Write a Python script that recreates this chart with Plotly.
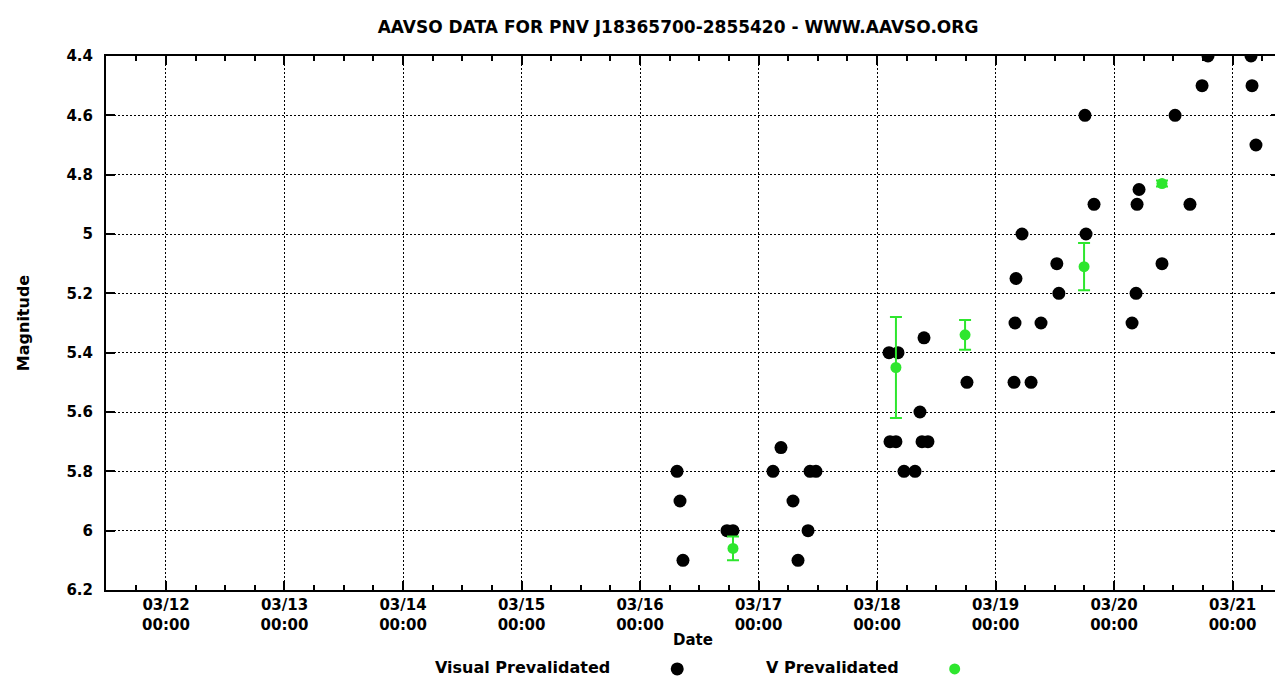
import plotly.graph_objects as go

# ---- data ----
vis_dates = [
    "2014-03-16 07:30", "2014-03-16 08:06", "2014-03-16 08:42", "2014-03-16 17:37", "2014-03-16 18:50",
    "2014-03-17 02:56", "2014-03-17 04:33", "2014-03-17 06:59", "2014-03-17 08:00", "2014-03-17 10:02",
    "2014-03-17 10:26", "2014-03-17 11:38",
    "2014-03-18 02:26", "2014-03-18 04:15", "2014-03-18 02:38", "2014-03-18 03:50", "2014-03-18 05:28",
    "2014-03-18 07:42", "2014-03-18 08:42", "2014-03-18 09:31", "2014-03-18 09:07", "2014-03-18 10:19",
    "2014-03-18 18:13",
    "2014-03-19 03:45", "2014-03-19 07:12", "2014-03-19 03:57", "2014-03-19 09:13", "2014-03-19 04:09",
    "2014-03-19 05:22", "2014-03-19 12:50", "2014-03-19 12:25", "2014-03-19 18:07", "2014-03-19 18:20",
    "2014-03-19 19:57",
    "2014-03-20 03:39", "2014-03-20 04:28", "2014-03-20 04:40", "2014-03-20 05:04", "2014-03-20 09:43",
    "2014-03-20 12:22", "2014-03-20 15:23", "2014-03-20 17:50", "2014-03-20 19:02",
    "2014-03-21 03:45", "2014-03-21 03:57", "2014-03-21 04:45",
]
vis_mag = [
    5.8, 5.9, 6.1, 6.0, 6.0,
    5.8, 5.72, 5.9, 6.1, 6.0,
    5.8, 5.8,
    5.4, 5.4, 5.7, 5.7, 5.8,
    5.8, 5.6, 5.35, 5.7, 5.7,
    5.5,
    5.5, 5.5, 5.3, 5.3, 5.15,
    5.0, 5.2, 5.1, 4.6, 5.0,
    4.9,
    5.3, 5.2, 4.9, 4.85, 5.1,
    4.6, 4.9, 4.5, 4.4,
    4.4, 4.5, 4.7,
]

v_dates = ["2014-03-16 18:50", "2014-03-18 03:50", "2014-03-18 17:50", "2014-03-19 17:56", "2014-03-20 09:43"]
v_mag = [6.06, 5.45, 5.34, 5.11, 4.83]
v_err = [0.04, 0.17, 0.05, 0.08, 0.01]

x_tick_vals = ["2014-03-%02d" % d for d in range(12, 22)]
x_tick_text = ["03/%02d<br>00:00" % d for d in range(12, 22)]
y_tick_vals = [4.4, 4.6, 4.8, 5.0, 5.2, 5.4, 5.6, 5.8, 6.0, 6.2]
y_tick_text = ["4.4", "4.6", "4.8", "5", "5.2", "5.4", "5.6", "5.8", "6", "6.2"]

x_range = ["2014-03-11 11:51", "2014-03-21 09:37"]
y_range = [6.2, 4.4]

FONT = "DejaVu Sans"
GREEN = "#2ee62e"
W, H = 1275, 680          # page body has an 8px margin
ML, MT, MR, MB = 98, 48, 3, 98
PW = W - ML - MR
PH = H - MT - MB

fig = go.Figure()

fig.add_trace(go.Scatter(
    x=vis_dates, y=vis_mag, mode="markers", name=" ",
    marker=dict(color="black", size=13, line=dict(width=0)),
    hovertemplate="%{x}<br>%{y}<extra>Visual Prevalidated</extra>",
    legend="legend",
))
fig.add_trace(go.Scatter(
    x=v_dates, y=v_mag, mode="markers", name=" ",
    marker=dict(color=GREEN, size=11, line=dict(width=0)),
    error_y=dict(type="data", array=v_err, visible=True, color=GREEN, thickness=2, width=6),
    hovertemplate="%{x}<br>%{y}<extra>V Prevalidated</extra>",
    legend="legend2",
))

tickfont = dict(family=FONT, size=15, color="black", weight="bold")
labelfont = dict(family=FONT, size=16, color="black", weight="bold")
axis_common = dict(
    showline=True, linecolor="black", linewidth=2, mirror="allticks",
    ticks="inside", tickcolor="black", tickwidth=2,
    showgrid=True, gridcolor="black", gridwidth=1, griddash="2px,2px",
    zeroline=False,
    tickfont=tickfont,
)

fig.update_xaxes(
    type="date", range=x_range,
    tickmode="array", tickvals=x_tick_vals, ticktext=x_tick_text, ticklen=9,
    minor=dict(dtick=6 * 3600 * 1000, tick0="2014-03-12", ticks="inside", ticklen=5,
               tickcolor="black", tickwidth=2, showgrid=False),
    title=dict(text="Date", font=dict(family=FONT, size=15, color="black", weight="bold"), standoff=2),
    **axis_common,
)
fig.update_yaxes(
    range=y_range, tickmode="array", tickvals=y_tick_vals, ticktext=y_tick_text, ticklen=9,
    ticklabelstandoff=8,
    title=dict(text="Magnitude", font=labelfont, standoff=33),
    **axis_common,
)

legend_y = -(661 - 582) / PH
fig.update_layout(
    width=W, height=H,
    margin=dict(l=ML, r=MR, t=MT, b=MB, autoexpand=False),
    paper_bgcolor="white", plot_bgcolor="white",
    title=dict(text="AAVSO DATA FOR PNV J18365700-2855420 - WWW.AAVSO.ORG",
               font=dict(family=FONT, size=17, color="black", weight="bold"),
               x=(678 - 8) / W, xref="container", xanchor="center",
               y=1 - (27 - 8) / H, yref="container", yanchor="middle"),
    showlegend=True,
    legend=dict(title=dict(text="Visual Prevalidated" + "&nbsp;" * 7, side="left", font=labelfont),
                font=labelfont,
                orientation="h", x=(433 - 106) / PW, xanchor="left",
                y=legend_y, yanchor="middle", bgcolor="rgba(0,0,0,0)"),
    legend2=dict(title=dict(text="V Prevalidated" + "&nbsp;" * 5, side="left", font=labelfont),
                 font=labelfont,
                 orientation="h", x=(764 - 106) / PW, xanchor="left",
                 y=legend_y, yanchor="middle", bgcolor="rgba(0,0,0,0)"),
)

fig.write_html("out.html")
